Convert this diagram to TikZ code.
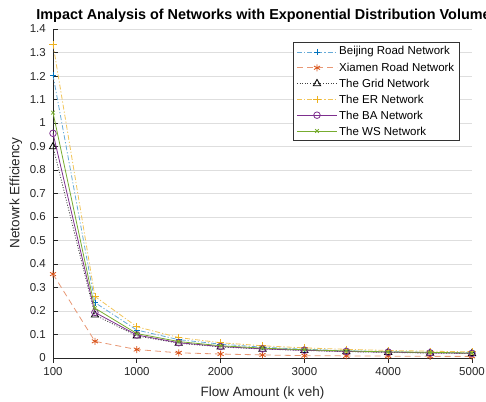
\documentclass[tikz,border=0pt]{standalone}
\usepackage{fontspec}
\setmainfont{Liberation Sans}
\usetikzlibrary{plotmarks}

\definecolor{mlblue}{rgb}{0,0.447,0.741}
\definecolor{mlorange}{rgb}{0.85,0.325,0.098}
\definecolor{mlyellow}{rgb}{0.929,0.694,0.125}
\definecolor{mlpurple}{rgb}{0.494,0.184,0.556}
\definecolor{mlgreen}{rgb}{0.466,0.674,0.188}

\begin{document}
\begin{tikzpicture}[
    x=1pt, y=1pt,
    gridline/.style={draw=black!13, line width=0.7pt},
    axisline/.style={draw=black!85, line width=0.8pt},
    ticklabel/.style={font=\fontsize{11.5}{13}\selectfont, text=black!85, inner sep=0},
    axislabel/.style={font=\fontsize{13.5}{15}\selectfont, text=black!85, inner sep=0},
    legendtext/.style={font=\fontsize{11.5}{13}\selectfont, anchor=west, inner sep=0},
    beijing/.style={draw=mlblue!60, line width=0.8pt, dash pattern=on 5pt off 2pt on 1.2pt off 2pt,
                    mark=+, mark size=3.2pt, mark options={solid, draw=mlblue}},
    xiamen/.style={draw=mlorange!60, line width=0.8pt, dash pattern=on 6pt off 4pt,
                   mark=asterisk, mark size=3.5pt, mark options={solid, draw=mlorange}},
    gridnet/.style={draw=black!75, line width=0.8pt, dash pattern=on 1pt off 1.6pt,
                    mark=triangle, mark size=4.2pt, mark options={solid, draw=black}},
    ernet/.style={draw=mlyellow!75, line width=0.8pt, dash pattern=on 5pt off 2pt on 1.2pt off 2pt,
                  mark=+, mark size=3.6pt, mark options={solid, draw=mlyellow}},
    banet/.style={draw=mlpurple, line width=0.8pt, mark=o, mark size=3.3pt},
    wsnet/.style={draw=mlgreen, line width=0.8pt, mark=x, mark size=2.6pt}
]

\useasboundingbox (0,0) rectangle (486,401);

\node (title) [font=\fontsize{14.4}{16}\selectfont\bfseries, anchor=base] at (263.5,381.5)
    {Impact Analysis of Networks with Exponential Distribution Volume};

\begin{scope}[shift={(53,43)}, x=41.9pt, y=235pt]
    % grid and axes
    \foreach \v in {0.1,0.2,0.3,0.4,0.5,0.6,0.7,0.8,0.9,1,1.1,1.2,1.3,1.4}
        \draw[gridline] (0,\v) -- (10,\v);
    \draw[axisline] (0,1.4) -- (0,0) -- (10,0);
    \foreach \v [count=\k] in {0,0.1,0.2,0.3,0.4,0.5,0.6,0.7,0.8,0.9,1,1.1,1.2,1.3,1.4} {
        \draw[axisline] (0,\v) -- ++(5pt,0);
        \node (ytick-\k) [ticklabel, anchor=east] at ([xshift=-7pt]0,\v) {\v};
    }
    \foreach \i/\t in {0/100,2/1000,4/2000,6/3000,8/4000,10/5000} {
        \draw[axisline] (\i,0) -- ++(0,-5pt);
        \node (xtick-\t) [ticklabel] at ([yshift=-14pt]\i,0) {\t};
    }

    % curves
    \draw[beijing] plot coordinates {(0,1.204) (1,0.236) (2,0.119) (3,0.078) (4,0.059) (5,0.046)
        (6,0.037) (7,0.031) (8,0.027) (9,0.024) (10,0.022)};
    \draw[xiamen] plot coordinates {(0,0.357) (1,0.071) (2,0.036) (3,0.022) (4,0.017) (5,0.013)
        (6,0.010) (7,0.009) (8,0.008) (9,0.007) (10,0.007)};
    \draw[gridnet] plot coordinates {(0,0.899) (1,0.183) (2,0.094) (3,0.063) (4,0.047) (5,0.038)
        (6,0.032) (7,0.027) (8,0.024) (9,0.021) (10,0.019)};
    \draw[ernet] plot coordinates {(0,1.335) (1,0.262) (2,0.133) (3,0.087) (4,0.065) (5,0.052)
        (6,0.043) (7,0.037) (8,0.032) (9,0.029) (10,0.026)};
    \draw[banet] plot coordinates {(0,0.956) (1,0.194) (2,0.098) (3,0.065) (4,0.049) (5,0.039)
        (6,0.033) (7,0.028) (8,0.025) (9,0.022) (10,0.020)};
    \draw[wsnet] plot coordinates {(0,1.044) (1,0.212) (2,0.104) (3,0.070) (4,0.052) (5,0.042)
        (6,0.035) (7,0.030) (8,0.026) (9,0.024) (10,0.021)};
\end{scope}

\node (ylabel) [axislabel, rotate=90] at (16,208) {Netowrk Efficiency};
\node (xlabel) [axislabel, anchor=base] at (262.5,5) {Flow Amount (k veh)};

% legend
\node (legendbox) [draw=black!80, line width=0.7pt, fill=white, minimum width=166pt, minimum height=98pt,
    inner sep=0, anchor=north west] at (293,359) {};
\draw[beijing] (297,349) -- (337,349);
\draw[beijing] plot coordinates {(317,349)};
\node (leg-beijing) [legendtext] at (339,349) {Beijing Road Network};
\draw[xiamen] (297,333.2) -- (337,333.2);
\draw[xiamen] plot coordinates {(317,333.2)};
\node (leg-xiamen) [legendtext] at (339,333.2) {Xiamen Road Network};
\draw[gridnet] (297,317.4) -- (337,317.4);
\draw[gridnet] plot coordinates {(317,317.4)};
\node (leg-grid) [legendtext] at (339,317.4) {The Grid Network};
\draw[ernet] (297,301.6) -- (337,301.6);
\draw[ernet] plot coordinates {(317,301.6)};
\node (leg-er) [legendtext] at (339,301.6) {The ER Network};
\draw[banet] (297,285.8) -- (337,285.8);
\draw[banet] plot coordinates {(317,285.8)};
\node (leg-ba) [legendtext] at (339,285.8) {The BA Network};
\draw[wsnet] (297,270) -- (337,270);
\draw[wsnet] plot coordinates {(317,270)};
\node (leg-ws) [legendtext] at (339,270) {The WS Network};

\end{tikzpicture}
\end{document}
